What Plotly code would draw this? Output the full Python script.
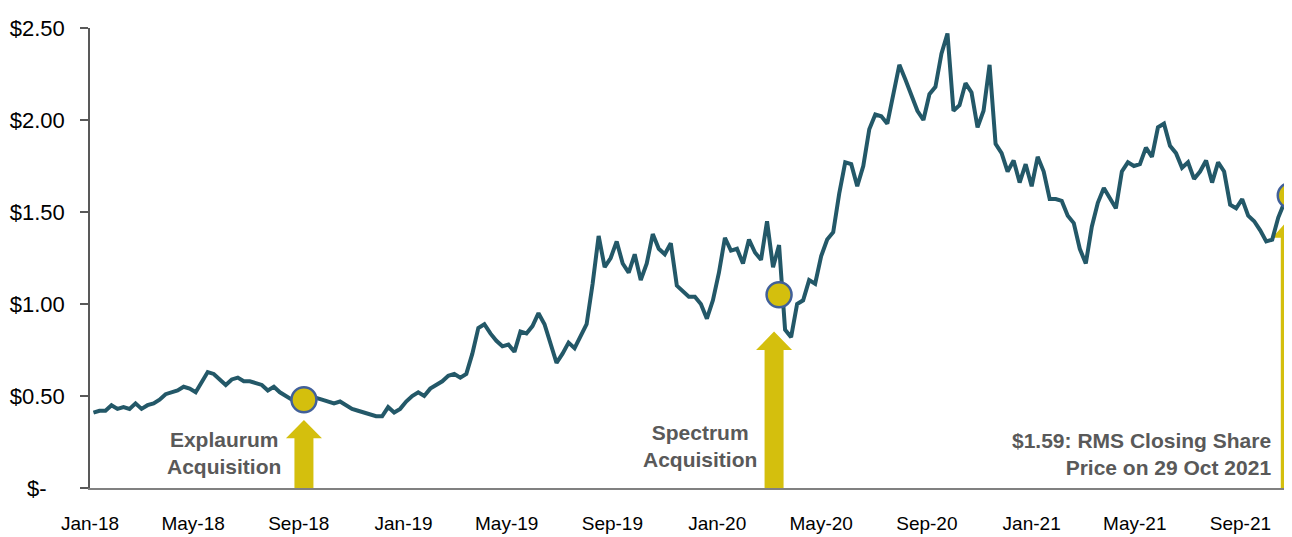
import pandas as pd
import plotly.graph_objects as go

# Weekly closing share price (A$) (Fridays)
price_2018 = [0.41, 0.42, 0.42, 0.45, 0.43, 0.44, 0.43, 0.46, 0.43, 0.45,
              0.46, 0.48, 0.51, 0.52, 0.53, 0.55, 0.54, 0.52, 0.58, 0.63,
              0.62, 0.59, 0.56, 0.59, 0.60, 0.58, 0.58, 0.57, 0.56, 0.53,
              0.55, 0.52, 0.50, 0.48, 0.47, 0.48, 0.48, 0.49, 0.48, 0.47,
              0.46, 0.47, 0.45, 0.43, 0.42, 0.41, 0.40, 0.39, 0.39, 0.44,
              0.41, 0.43]
price_2019 = [0.47, 0.50, 0.52, 0.50, 0.54, 0.56, 0.58, 0.61, 0.62, 0.60,
              0.62, 0.73, 0.87, 0.89, 0.84, 0.80, 0.77, 0.78, 0.74, 0.85,
              0.84, 0.88, 0.95, 0.89, 0.79, 0.68, 0.73, 0.79, 0.76, 0.82,
              0.89, 1.11, 1.37, 1.20, 1.25, 1.34, 1.22, 1.17, 1.27, 1.13,
              1.22, 1.38, 1.30, 1.27, 1.33, 1.10, 1.07, 1.04, 1.04, 1.00,
              0.92, 1.02]
price_2020 = [1.17, 1.36, 1.29, 1.30, 1.22, 1.35, 1.28, 1.24,
              1.45, 1.20, 1.32, 0.86, 0.82, 1.00, 1.02, 1.13, 1.11, 1.26,
              1.35, 1.39, 1.60, 1.77, 1.76, 1.64, 1.75, 1.95, 2.03, 2.02,
              1.98, 2.15, 2.30, 2.22, 2.13, 2.05, 2.00, 2.14, 2.18, 2.36,
              2.47, 2.05, 2.08, 2.20, 2.15, 1.96, 2.05, 2.30, 1.87, 1.82,
              1.72, 1.78, 1.66, 1.76]
price_2021 = [1.64, 1.80, 1.72, 1.57,
              1.57, 1.56, 1.48, 1.44, 1.30, 1.22, 1.42, 1.55, 1.63, 1.58,
              1.52, 1.72, 1.77, 1.75, 1.76, 1.85, 1.80, 1.96, 1.98, 1.86,
              1.82, 1.74, 1.77, 1.68, 1.72, 1.78, 1.66, 1.77, 1.72, 1.54,
              1.52, 1.57, 1.48, 1.45, 1.40, 1.34, 1.35, 1.47, 1.55, 1.59]
last_date = "2021-10-29"

# Highlighted events
event_dates = ["2018-09-07", "2020-03-13", "2021-10-29"]
event_prices = [0.48, 1.05, 1.59]
event_labels = ["Explaurum<br>Acquisition", "Spectrum<br>Acquisition",
                "$1.59: RMS Closing Share<br>Price on 29 Oct 2021"]

# Axis ticks
tick_dates = ["2018-01-01", "2018-05-01", "2018-09-01", "2019-01-01", "2019-05-01",
              "2019-09-01", "2020-01-01", "2020-05-01", "2020-09-01", "2021-01-01",
              "2021-05-01", "2021-09-01"]
tick_labels = ["Jan-18", "May-18", "Sep-18", "Jan-19", "May-19", "Sep-19",
               "Jan-20", "May-20", "Sep-20", "Jan-21", "May-21", "Sep-21"]
y_ticks = [0, 0.5, 1.0, 1.5, 2.0, 2.5]
y_labels = ["$-\u00a0\u00a0\u00a0", "$0.50", "$1.00", "$1.50", "$2.00", "$2.50"]

prices = price_2018 + price_2019 + price_2020 + price_2021
dates = pd.date_range(end=last_date, periods=len(prices), freq="7D")

LINE = "#235868"
GOLD = "#D4BF0D"
TEXT_GREY = "#595959"
FONT = "Liberation Sans, Arial, sans-serif"

fig = go.Figure()
fig.add_trace(go.Scatter(x=dates, y=prices, mode="lines",
                         line=dict(color=LINE, width=4), hoverinfo="skip"))
fig.add_trace(go.Scatter(x=event_dates, y=event_prices, mode="markers",
                         marker=dict(size=25, color=GOLD,
                                     line=dict(color="#41609A", width=2.5)),
                         cliponaxis=False, hoverinfo="skip"))

# Block arrows (x in pixels relative to the event date, y in data units)
arrow_specs = [
    (event_dates[0], 0, 0.27, 0.37),
    (event_dates[1], -5, 0.75, 0.85),
    (event_dates[2], 0, 1.36, 1.47),
]
for d, off, base, tip in arrow_specs:
    sw, hw = 9.5, 18
    path = (f"M {off-sw},0 L {off+sw},0 L {off+sw},{base} L {off+hw},{base} "
            f"L {off},{tip} L {off-hw},{base} L {off-sw},{base} Z")
    fig.add_shape(type="path", path=path, xref="x", yref="y",
                  xsizemode="pixel", xanchor=d, ysizemode="scaled",
                  fillcolor=GOLD, line=dict(width=0), layer="below")

ann_font = dict(family=FONT, size=21, color=TEXT_GREY)
fig.add_annotation(x="2018-06-06", y=0.19, xref="x", yref="y",
                   text=f"<b>{event_labels[0]}</b>", showarrow=False,
                   font=ann_font, align="center", xanchor="center", yanchor="middle")
fig.add_annotation(x="2019-12-12", y=0.23, xref="x", yref="y",
                   text=f"<b>{event_labels[1]}</b>", showarrow=False,
                   font=ann_font, align="center", xanchor="center", yanchor="middle")
fig.add_annotation(x="2021-10-09", y=0.185, xref="x", yref="y",
                   text=f"<b>{event_labels[2]}</b>", showarrow=False,
                   font=ann_font, align="right", xanchor="right", yanchor="middle")

# The page body has an 8px margin, so the figure is sized/offset to compensate
fig.update_layout(
    width=1284, height=529,
    margin=dict(l=82, r=0, t=20, b=49, autoexpand=False),
    paper_bgcolor="white", plot_bgcolor="white",
    showlegend=False,
    font=dict(family=FONT, size=19, color="black"),
    xaxis=dict(type="date", range=["2018-01-01", "2021-10-31"],
               tickvals=tick_dates, ticktext=tick_labels,
               showgrid=False, zeroline=False, automargin=False,
               showline=True, linecolor="#808080", linewidth=2,
               ticks="", ticklabelstandoff=17,
               tickfont=dict(family=FONT, size=19, color="black")),
    yaxis=dict(range=[0, 2.5], tickvals=y_ticks, ticktext=y_labels,
               showgrid=False, zeroline=False, automargin=False,
               showline=True, linecolor="#595959", linewidth=1.5,
               ticks="outside", ticklen=8, tickcolor="#595959", tickwidth=1.5,
               ticklabelstandoff=11,
               tickfont=dict(family=FONT, size=22, color="black")),
)

fig.write_html("out.html")
